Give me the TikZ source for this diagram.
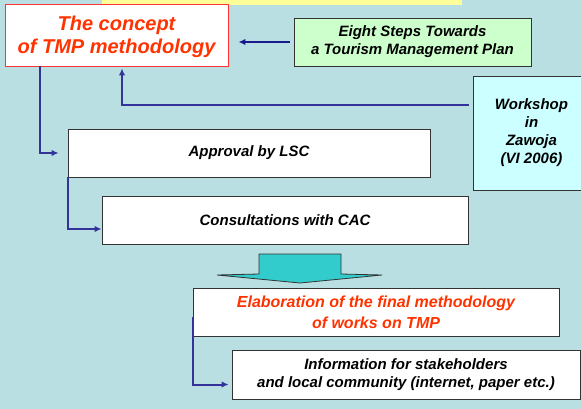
\documentclass[tikz,border=0pt]{standalone}
\usepackage{fontspec}
\setmainfont{Liberation Sans}
\usetikzlibrary{arrows.meta,positioning,calc}
\definecolor{bgblue}{HTML}{B9DFE2}
\definecolor{navy}{HTML}{333399}
\definecolor{darknavy}{HTML}{1A1A8C}
\definecolor{redtext}{HTML}{FF3300}
\definecolor{redline}{HTML}{FF3333}
\definecolor{greenfill}{HTML}{CCFFCC}
\definecolor{cyanfill}{HTML}{CCFFFF}
\definecolor{yellowfill}{HTML}{FFFF99}
\definecolor{tealfill}{HTML}{33CCCC}

\begin{document}
\begin{tikzpicture}[
    x=1pt, y=-1pt,
    box/.style={
        rectangle,
        draw=black!80,
        line width=0.8pt,
        fill=white,
        align=center,
        inner sep=0pt,
        minimum height=48pt,
        font=\fontsize{15}{18}\selectfont\bfseries\itshape
    },
    redbox/.style={
        box,
        text=redtext
    },
    arrow/.style={-{Latex[length=7pt,width=6.5pt]}, line width=2pt, draw=navy}
]

\clip (0,0) rectangle (581,409);
\fill[bgblue] (0,0) rectangle (581,409);
\draw[fill=yellowfill, draw=none] (102,-20) rectangle (462,5);

\node[redbox, draw=redline, minimum width=223pt, minimum height=62pt, text depth=0pt,
      font=\fontsize{20}{23}\selectfont\bfseries\itshape] (concept) at (116.5,35)
{The concept\\of TMP methodology};

\node[box, fill=greenfill, minimum width=237pt] (steps) at (412.5,42)
{Eight Steps Towards\\a Tourism Management Plan};

\node[box, fill=cyanfill, minimum width=117pt, minimum height=114pt] (workshop) at (531.5,133)
{Workshop\\in\\Zawoja\\(VI 2006)};

\node[box, minimum width=362pt] (approval) at (249,153)
{Approval by LSC};

\node[box, minimum width=366pt] (consult) at (285,220)
{Consultations with CAC};

\node[redbox, minimum width=366pt,
      font=\fontsize{16}{21}\selectfont\bfseries\itshape] (elab) at (376,312)
{Elaboration of the final methodology\\of works on TMP};

\node[box, minimum width=348pt, minimum height=49pt] (info) at (406,374.5)
{Information for stakeholders\\and local community (internet, paper etc.)};

\draw[fill=tealfill, draw=black!80, line width=0.8pt]
    (259,274) -- (259,254) -- (341,254) -- (341,274)
    -- (382,275) -- (300,283) -- (217,275) -- cycle;

\draw[arrow, draw=darknavy, shorten <=4pt, shorten >=10pt] (steps.west) -- (steps.west -| concept.east);
\draw[arrow, shorten <=4pt, shorten >=2pt] ([yshift=-29pt]workshop.north west) -| ([xshift=5.5pt]concept.south);
\draw[arrow, shorten >=9pt] ([xshift=35pt]concept.south west) |- (approval.west);
\draw[arrow] (approval.south west) |- ([yshift=-9pt]consult.west);
\draw[arrow, shorten >=3pt] ([yshift=-5pt]elab.west) |- ([yshift=-10pt]info.west);

\end{tikzpicture}
\end{document}
